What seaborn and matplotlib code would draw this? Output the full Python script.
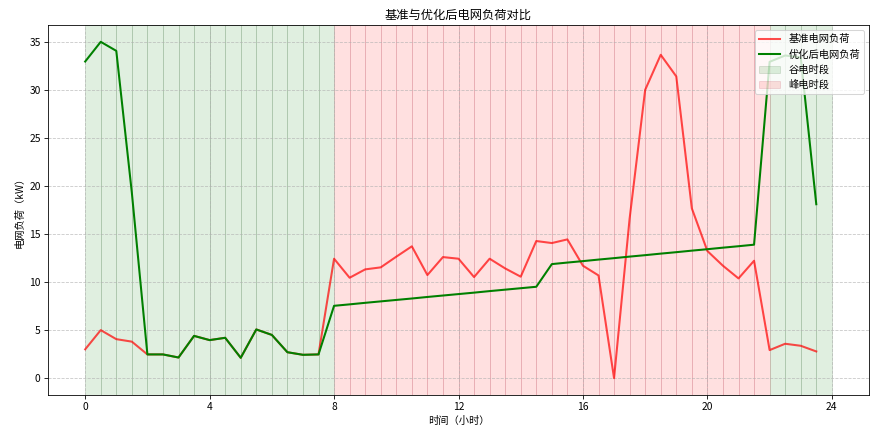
import numpy as np
import pandas as pd
import seaborn as sns
import matplotlib
matplotlib.use("Agg")
import matplotlib.pyplot as plt

# half-hour time slots
hours = np.arange(0, 24, 0.5)

# baseline grid load (kW)
base_load = [3.0, 5.0, 4.06, 3.8, 2.47, 2.47, 2.15, 4.4, 3.96, 4.2, 2.12, 5.07,
             4.5, 2.7, 2.43, 2.47, 12.43, 10.45, 11.32, 11.53, 12.64, 13.72, 10.73, 12.6,
             12.43, 10.52, 12.43, 11.42, 10.56, 14.27, 14.06, 14.44, 11.7, 10.69, 0.0, 16.6,
             30.0, 33.65, 31.4, 17.67, 13.23, 11.7, 10.38, 12.22, 2.92, 3.58, 3.37, 2.78]

# optimised grid load (kW)
opt_load = [32.95, 35.0, 34.06, 19.3, 2.47, 2.47, 2.15, 4.4, 3.96, 4.2, 2.12, 5.07,
            4.5, 2.7, 2.43, 2.47, 7.53, 7.68, 7.84, 7.99, 8.14, 8.29, 8.45, 8.6,
            8.75, 8.9, 9.06, 9.21, 9.36, 9.51, 11.87, 12.03, 12.18, 12.34, 12.49, 12.65,
            12.8, 12.96, 13.11, 13.27, 13.42, 13.58, 13.73, 13.89, 32.92, 33.58, 33.37, 18.1]

valley_start, valley_end = 8, 22

plt.rcParams['font.family'] = ['Noto Sans CJK SC', 'DejaVu Sans']
plt.rcParams['axes.unicode_minus'] = False

df = pd.DataFrame({'时间': hours, 'base': base_load, 'opt': opt_load})

fig, ax = plt.subplots(figsize=(886/73.83, 435/73.83), dpi=73.83)
fig.subplots_adjust(left=0.054, right=0.981, bottom=0.092, top=0.9425)

sns.lineplot(data=df, x='时间', y='base', color='red', alpha=0.7, linewidth=2,
             label='基准电网负荷', ax=ax)
sns.lineplot(data=df, x='时间', y='opt', color='green', linewidth=2,
             label='优化后电网负荷', ax=ax)

v_done = p_done = False
for t in hours:
    if t < valley_start or t >= valley_end:
        ax.axvspan(t, t + 0.5, facecolor=(0, 0.5, 0, 0.12),
                   edgecolor=(0.2, 0.4, 0.2, 0.18), linewidth=0.8,
                   label=None if v_done else '谷电时段')
        v_done = True
    else:
        ax.axvspan(t, t + 0.5, facecolor=(1, 0, 0, 0.12),
                   edgecolor=(0.7, 0.2, 0.3, 0.18), linewidth=0.8,
                   label=None if p_done else '峰电时段')
        p_done = True

ax.set_title('基准与优化后电网负荷对比')
ax.set_xlabel('时间（小时）')
ax.set_ylabel('电网负荷（kW）')
ax.set_xticks([0, 4, 8, 12, 16, 20, 24])
ax.grid(True, linestyle='--', alpha=0.7)
ax.legend(loc='upper right')

fig.savefig('out.png', dpi=73.83)
